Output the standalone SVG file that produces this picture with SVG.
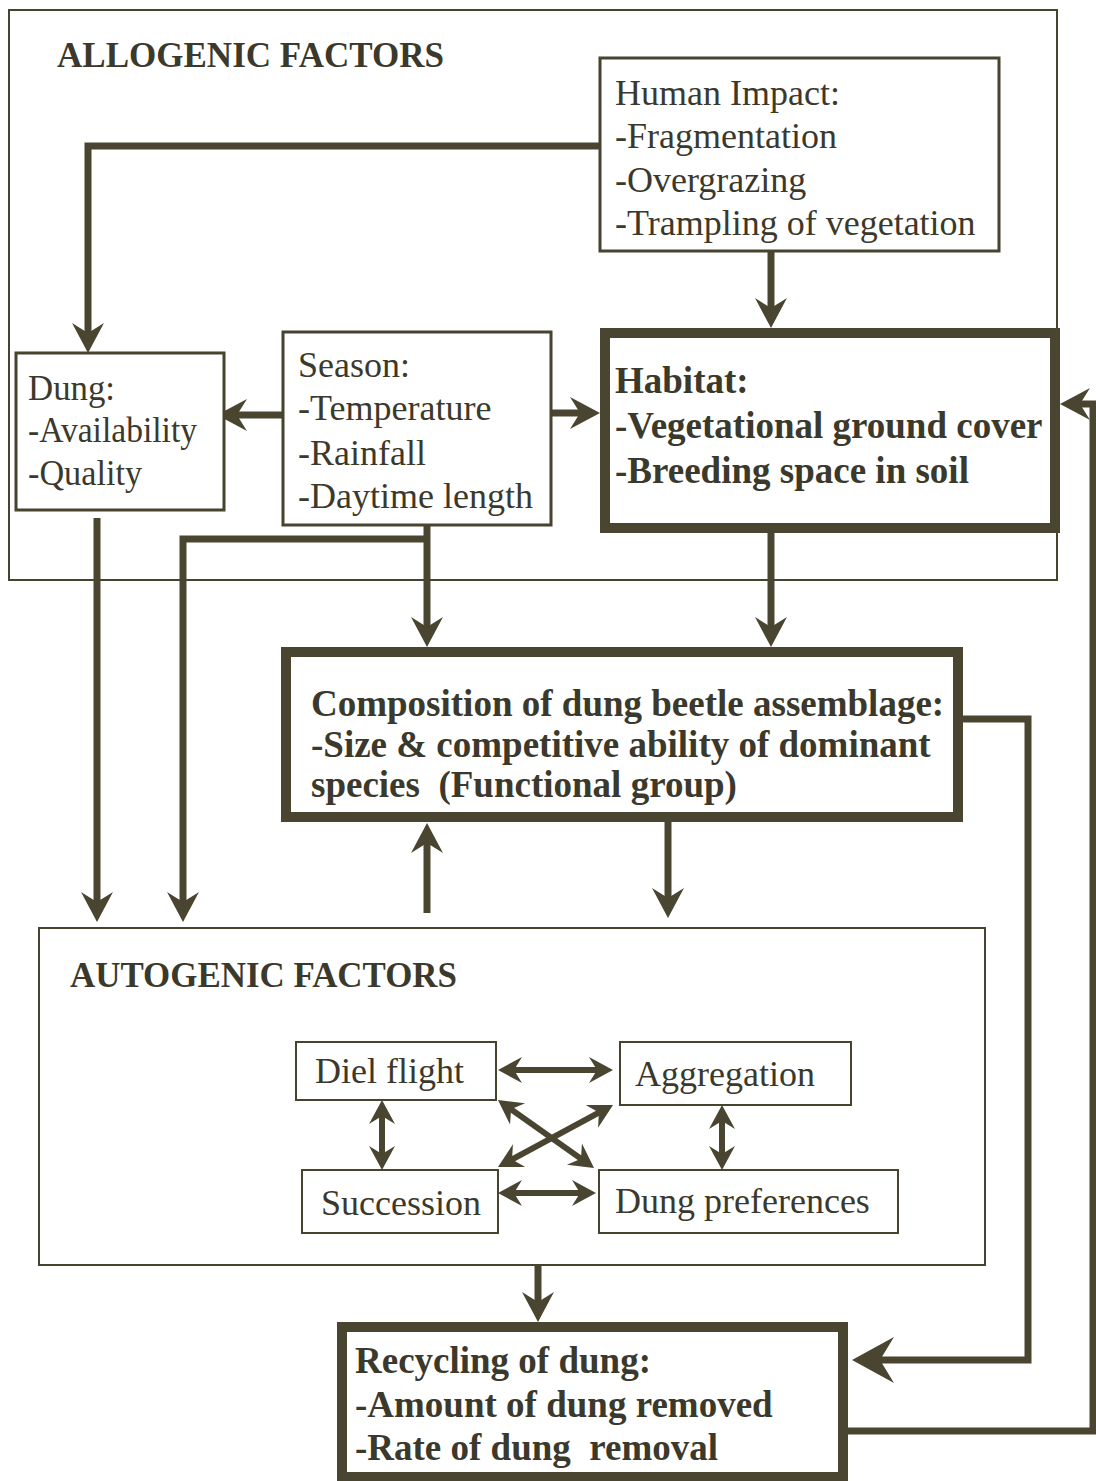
<svg xmlns="http://www.w3.org/2000/svg" width="1096" height="1481" viewBox="0 0 1096 1481">
<style>
  .bg{fill:#ffffff}
  .frame{fill:none;stroke:#46432f;stroke-width:2}
  .box{fill:#ffffff;stroke:#46432f;stroke-width:3}
  .thick{fill:#ffffff;stroke:#4a4530;stroke-width:10}
  .small{fill:#ffffff;stroke:#46432f;stroke-width:2}
  .t{font-family:"Liberation Serif","Times New Roman",serif;fill:#3b392c;font-size:36px}
  .b{font-family:"Liberation Serif","Times New Roman",serif;fill:#3b392c;font-weight:bold}
  .c{fill:none;stroke:#4a4530;stroke-width:7;stroke-linejoin:miter}
  .ci{fill:none;stroke:#4a4530;stroke-width:6}
</style>
<defs>
  <marker id="arr" viewBox="-14 -18 34 36" refX="0" refY="0" markerWidth="34" markerHeight="36" markerUnits="userSpaceOnUse" orient="auto-start-reverse">
    <path d="M18,0 L-12,-16 L-2,0 L-12,16 Z" fill="#4a4530"/>
  </marker>
  <marker id="arrL" viewBox="-20 -25 48 50" refX="0" refY="0" markerWidth="48" markerHeight="50" markerUnits="userSpaceOnUse" orient="auto">
    <path d="M25,0 L-17,-23 L-3,0 L-17,23 Z" fill="#4a4530"/>
  </marker>
  <marker id="arrS" viewBox="-12 -15 28 30" refX="0" refY="0" markerWidth="28" markerHeight="30" markerUnits="userSpaceOnUse" orient="auto-start-reverse">
    <path d="M14,0 L-10,-13 L-2,0 L-10,13 Z" fill="#4a4530"/>
  </marker>
</defs>
<rect class="bg" x="0" y="0" width="1096" height="1481"/>

<g id="allogenic-frame">
  <rect class="frame" x="9" y="10" width="1048" height="570"/>
  <text class="b" x="57" y="67" font-size="36" textLength="387" lengthAdjust="spacingAndGlyphs">ALLOGENIC FACTORS</text>
</g>

<g id="autogenic-frame">
  <rect class="frame" x="39" y="928" width="946" height="337"/>
  <text class="b" x="70" y="987" font-size="36" textLength="387" lengthAdjust="spacingAndGlyphs">AUTOGENIC FACTORS</text>
</g>

<g id="connectors">
  <path class="c" d="M600,146 H88 V335" marker-end="url(#arr)"/>
  <path class="c" d="M771,251 V310" marker-end="url(#arr)"/>
  <path class="c" d="M283,415 H235" marker-end="url(#arr)"/>
  <path class="c" d="M551,413 H582" marker-end="url(#arr)"/>
  <path class="c" d="M427,525 V629" marker-end="url(#arr)"/>
  <path class="c" d="M427,539 H183 V904" marker-end="url(#arr)"/>
  <path class="c" d="M97,518 V904" marker-end="url(#arr)"/>
  <path class="c" d="M771,533 V629" marker-end="url(#arr)"/>
  <path class="c" d="M427,913 V841" marker-end="url(#arr)"/>
  <path class="c" d="M668,822 V900" marker-end="url(#arr)"/>
  <path class="c" d="M963,719 H1028 V1360 H877" marker-end="url(#arrL)"/>
  <path class="c" d="M848,1431 H1093 V404 H1078" marker-end="url(#arr)"/>
  <path class="c" d="M538,1265 V1304" marker-end="url(#arr)"/>
  <path class="ci" d="M512,1070 H599" marker-start="url(#arrS)" marker-end="url(#arrS)"/>
  <path class="ci" d="M512,1193 H582" marker-start="url(#arrS)" marker-end="url(#arrS)"/>
  <path class="ci" d="M382,1114 V1156" marker-start="url(#arrS)" marker-end="url(#arrS)"/>
  <path class="ci" d="M722,1119 V1156" stroke-width="2" marker-start="url(#arrS)" marker-end="url(#arrS)"/>
  <path class="ci" d="M509.4,1108.1 L582.6,1159.9" marker-start="url(#arrS)" marker-end="url(#arrS)"/>
  <path class="ci" d="M600.7,1111.6 L510.3,1160.4" marker-start="url(#arrS)" marker-end="url(#arrS)"/>
</g>

<g id="human-impact">
  <rect class="box" x="600" y="58" width="399" height="193"/>
  <text class="t" x="615" y="105">Human Impact:</text>
  <text class="t" x="615" y="148">-Fragmentation</text>
  <text class="t" x="615" y="192">-Overgrazing</text>
  <text class="t" x="615" y="235">-Trampling of vegetation</text>
</g>

<g id="dung">
  <rect class="box" x="16" y="353" width="208" height="157"/>
  <text class="t" x="28" y="400" font-size="35" textLength="87" lengthAdjust="spacingAndGlyphs">Dung:</text>
  <text class="t" x="28" y="442" font-size="35" textLength="169" lengthAdjust="spacingAndGlyphs">-Availability</text>
  <text class="t" x="28" y="485" font-size="35" textLength="114" lengthAdjust="spacingAndGlyphs">-Quality</text>
</g>

<g id="season">
  <rect class="box" x="283" y="332" width="268" height="193"/>
  <text class="t" x="298" y="377">Season:</text>
  <text class="t" x="298" y="420">-Temperature</text>
  <text class="t" x="298" y="465">-Rainfall</text>
  <text class="t" x="298" y="508">-Daytime length</text>
</g>

<g id="habitat">
  <rect class="thick" x="605" y="333" width="450" height="195"/>
  <text class="b" x="615" y="393" font-size="37">Habitat:</text>
  <text class="b" x="615" y="438" font-size="37">-Vegetational ground cover</text>
  <text class="b" x="615" y="483" font-size="37">-Breeding space in soil</text>
</g>

<g id="composition">
  <rect class="thick" x="286" y="652" width="672" height="165"/>
  <text class="b" x="311" y="716" font-size="37">Composition of dung beetle assemblage:</text>
  <text class="b" x="311" y="757" font-size="37">-Size &amp; competitive ability of dominant</text>
  <text class="b" x="311" y="797" font-size="37" xml:space="preserve">species  (Functional group)</text>
</g>

<g id="diel-flight">
  <rect class="small" x="296" y="1042" width="200" height="58"/>
  <text class="t" x="315" y="1083" font-size="35">Diel flight</text>
</g>

<g id="aggregation">
  <rect class="small" x="620" y="1042" width="231" height="63"/>
  <text class="t" x="635" y="1086" font-size="35">Aggregation</text>
</g>

<g id="succession">
  <rect class="small" x="302" y="1170" width="196" height="63"/>
  <text class="t" x="321" y="1215" font-size="36">Succession</text>
</g>

<g id="dung-preferences">
  <rect class="small" x="599" y="1170" width="299" height="63"/>
  <text class="t" x="615" y="1213" font-size="36">Dung preferences</text>
</g>

<g id="recycling">
  <rect class="thick" x="342" y="1327" width="501" height="150"/>
  <text class="b" x="355" y="1373" font-size="37">Recycling of dung:</text>
  <text class="b" x="355" y="1417" font-size="37">-Amount of dung removed</text>
  <text class="b" x="355" y="1460" font-size="37" xml:space="preserve">-Rate of dung  removal</text>
</g>
</svg>
